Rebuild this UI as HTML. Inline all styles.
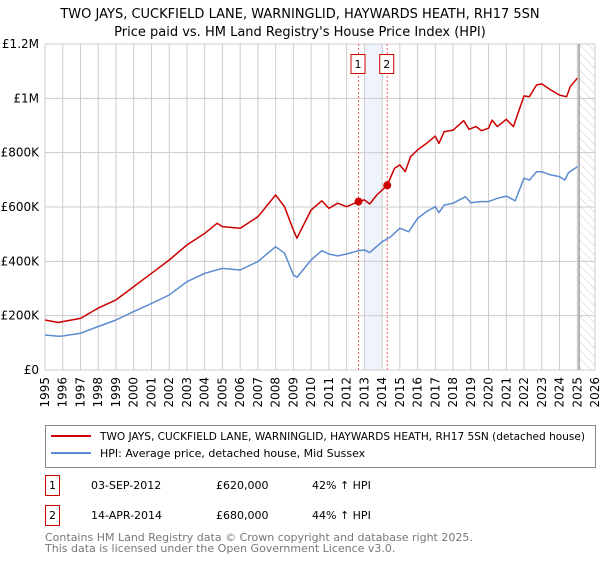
<!DOCTYPE html>
<html><head><meta charset="utf-8"><style>
body{margin:0;background:#fff;font-family:"Liberation Sans","DejaVu Sans",sans-serif;}
svg text{font-family:"DejaVu Sans","Liberation Sans",sans-serif;}
</style></head><body>
<svg width="600" height="560" viewBox="0 0 600 560">
<defs><pattern id="hatch" width="6" height="6" patternUnits="userSpaceOnUse" patternTransform="rotate(-45)"><line x1="0" y1="0" x2="0" y2="6" stroke="#ccc" stroke-width="1"/></pattern></defs>
<text x="300" y="18" text-anchor="middle" font-size="13">TWO JAYS, CUCKFIELD LANE, WARNINGLID, HAYWARDS HEATH, RH17 5SN</text>
<text x="300" y="36" text-anchor="middle" font-size="13">Price paid vs. HM Land Registry's House Price Index (HPI)</text>
<g id="plot"></g>
<rect x="45.5" y="425.5" width="550" height="42" fill="#fff" stroke="#888"/>
<line x1="51" y1="436" x2="91" y2="436" stroke="#cc0000" stroke-width="2"/>
<text x="100" y="440" font-size="11" textLength="485" lengthAdjust="spacingAndGlyphs">TWO JAYS, CUCKFIELD LANE, WARNINGLID, HAYWARDS HEATH, RH17 5SN (detached house)</text>
<line x1="51" y1="453" x2="91" y2="453" stroke="#5b8bd0" stroke-width="2"/>
<text x="100" y="457" font-size="11">HPI: Average price, detached house, Mid Sussex</text>
<rect x="45.5" y="475.5" width="14" height="20" fill="#fff" stroke="#cc0000"/>
<text x="52.5" y="489" text-anchor="middle" font-size="11">1</text>
<text x="91" y="489" font-size="11">03-SEP-2012</text>
<text x="216" y="489" font-size="11">£620,000</text>
<text x="312" y="489" font-size="11">42% ↑ HPI</text>
<rect x="45.5" y="505.5" width="14" height="20" fill="#fff" stroke="#cc0000"/>
<text x="52.5" y="519" text-anchor="middle" font-size="11">2</text>
<text x="91" y="519" font-size="11">14-APR-2014</text>
<text x="216" y="519" font-size="11">£680,000</text>
<text x="312" y="519" font-size="11">44% ↑ HPI</text>
<text x="45" y="541" font-size="11" fill="#777">Contains HM Land Registry data © Crown copyright and database right 2025.</text>
<text x="45" y="552" font-size="11" fill="#777">This data is licensed under the Open Government Licence v3.0.</text>
</svg>
<script>
const hpiYears=[1995,1995.75,1996,1997,1998,1999,2000,2001,2002,2003,2004,2005,2006,2007,2008,2008.5,2009,2009.2,2010,2010.6,2011,2011.5,2012,2012.67,2013,2013.3,2014,2014.5,2015,2015.5,2016,2016.5,2017,2017.2,2017.5,2018,2018.7,2019,2019.5,2020,2020.5,2021,2021.5,2022,2022.3,2022.7,2023,2023.5,2024,2024.3,2024.5,2025];
const hpiValues=[129,124,125,135,160,184,215,245,276,325,356,374,368,399,454,430,350,341,405,439,427,420,427,439,442,432,472,491,522,509,558,583,601,579,607,614,638,616,620,620,632,640,623,706,699,730,730,718,712,699,726,748];
const priceYears=[1995,1995.75,1996,1997,1998,1999,2000,2001,2002,2003,2004,2004.7,2005,2006,2007,2008,2008.5,2009,2009.2,2010,2010.6,2011,2011.5,2012,2012.67,2013,2013.3,2013.7,2014.29,2014.7,2015,2015.3,2015.6,2016,2016.5,2017,2017.2,2017.5,2018,2018.6,2018.9,2019.3,2019.6,2020,2020.2,2020.5,2021,2021.4,2022,2022.3,2022.7,2023,2023.5,2024,2024.4,2024.6,2025];
const priceValues=[184,175,178,190,228,258,307,356,405,460,503,540,528,522,564,644,601,515,485,589,623,595,614,601,620,626,611,644,680,742,755,730,785,810,834,861,834,877,883,918,886,896,881,890,920,896,923,896,1009,1006,1049,1053,1031,1012,1006,1043,1074];
const saleYears=[2012.67,2014.29];
const saleValues=[620,680];
const saleLabels=["1","2"];
const yTicks=[0,200,400,600,800,1000,1200];
const yTickLabels=["£0","£200K","£400K","£600K","£800K","£1M","£1.2M"];
const xTicks=[];for(let y=1995;y<=2026;y++)xTicks.push(y);
const X0=45,X1=595,Y0=370,Y1=44;
const xs=y=>X0+(y-1995)/(2026-1995)*(X1-X0);
const ys=v=>Y0-v/1200*(Y0-Y1);
const NS="http://www.w3.org/2000/svg";
const g=document.getElementById('plot');
function mk(t,a){const e=document.createElementNS(NS,t);for(const k in a)e.setAttribute(k,a[k]);g.appendChild(e);return e;}
let sh=mk('rect',{x:xs(2013),y:Y1,width:xs(2014)-xs(2013),height:Y0-Y1,fill:'#eef3fc'});


let ht=mk('rect',{x:xs(2025.1),y:Y1,width:X1-xs(2025.1),height:Y0-Y1,fill:'url(#hatch)'});


xTicks.forEach(y=>{const l=mk('line',{x1:xs(y),y1:Y1,x2:xs(y),y2:Y0,stroke:'#ccc','stroke-width':1});


const t=mk('text',{x:0,y:0,'font-size':12,'text-anchor':'end',transform:`translate(${xs(y)+4},${Y0+7}) rotate(-90)`});t.textContent=y;

});
yTicks.forEach((v,i)=>{const l=mk('line',{x1:X0,y1:ys(v),x2:X1,y2:ys(v),stroke:'#ccc','stroke-width':1});


const t=mk('text',{x:X0-6,y:ys(v)+4,'font-size':12,'text-anchor':'end'});t.textContent=yTickLabels[i];

});
let vl=mk('line',{x1:xs(2025.1),y1:Y1,x2:xs(2025.1),y2:Y0,stroke:'#999','stroke-width':1.5});


saleYears.forEach((y,i)=>{const l=mk('line',{x1:xs(y),y1:Y1,x2:xs(y),y2:Y0,stroke:'#f06060','stroke-dasharray':'2,2'});


const r=mk('rect',{x:xs(y)-7.5,y:54.5,width:14,height:19,fill:'#fff',stroke:'#cc0000'});


const t=mk('text',{x:xs(y)-0.5,y:68,'font-size':11,'text-anchor':'middle'});t.textContent=saleLabels[i];

});
function path(xa,va,c,n){const d=xa.map((y,i)=>(i?'L':'M')+xs(y).toFixed(1)+','+ys(va[i]).toFixed(1)).join('');
const p=mk('path',{d:d,fill:'none',stroke:c,'stroke-width':1.5,'stroke-linejoin':'round'});

}
path(hpiYears,hpiValues,'#5b8bd0','hpi-line');
path(priceYears,priceValues,'#cc0000','property-price-line');
saleYears.forEach((y,i)=>{const c=mk('circle',{cx:xs(y),cy:ys(saleValues[i]),r:4,fill:'#cc0000'});

});
</script>
</body></html>
